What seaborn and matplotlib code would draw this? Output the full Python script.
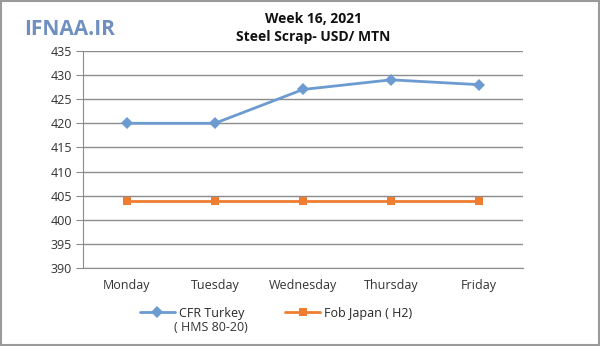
import matplotlib
matplotlib.use("Agg")
import matplotlib.pyplot as plt
import seaborn as sns
import pandas as pd
import numpy as np
from matplotlib.lines import Line2D

days = ["Monday", "Tuesday", "Wednesday", "Thursday", "Friday"]
cfr_turkey = [420, 420, 427, 429, 428]
fob_japan = [404, 404, 404, 404, 404]
series_names = ["CFR Turkey", "Fob Japan ( H2)"]
series_sub = "( HMS 80-20)"
yticks = [390, 395, 400, 405, 410, 415, 420, 425, 430, 435]

sns.set_style("white")
plt.rcParams['font.family'] = ['Open Sans', 'DejaVu Sans']

df = pd.DataFrame({
    "pos": list(range(len(days))) * 2,
    "value": cfr_turkey + fob_japan,
    "series": [series_names[0]] * 5 + [series_names[1]] * 5,
})

fig = plt.figure(figsize=(6.0, 3.46), dpi=100)
ax = fig.add_axes([0.138, 0.225, 0.734, 0.628])

colors = {series_names[0]: "#6b9bd1", series_names[1]: "#ee7d31"}
markers = {series_names[0]: "D", series_names[1]: "s"}
sns.lineplot(data=df, x="pos", y="value", hue="series", style="series",
             palette=colors, markers=markers, dashes=False, ax=ax,
             linewidth=2, markersize=6, markeredgewidth=0, legend=False)

ax.set_xlim(-0.5, 4.5)
ax.set_ylim(390, 435)
ax.set_yticks(yticks)
ax.set_xticks(range(len(days)))
ax.set_xticklabels(days)
ax.set_xlabel("")
ax.set_ylabel("")
ax.grid(axis="y", color="#8c8c8c", linewidth=1)
ax.set_axisbelow(True)
for s in ["top", "right"]:
    ax.spines[s].set_visible(False)
ax.spines["left"].set_color("#8c8c8c")
ax.spines["bottom"].set_color("#8c8c8c")
ax.tick_params(axis="y", length=5, color="#8c8c8c", labelsize=9, colors="#333333", pad=3, direction="out", left=True)
ax.tick_params(axis="x", length=5, color="#8c8c8c", labelsize=9, colors="#333333", pad=8, bottom=True)
ax.set_xticks(np.arange(-0.5, 5.0, 1.0), minor=True)
ax.tick_params(axis="x", which="major", length=0)
ax.tick_params(axis="x", which="minor", length=5, color="#8c8c8c")

fig.text(0.522, 0.945, "Week 16, 2021", ha="center", va="center", fontsize=10, fontweight="bold", color="#111111")
fig.text(0.522, 0.892, "Steel Scrap- USD/ MTN", ha="center", va="center", fontsize=10, fontweight="bold", color="#111111")
fig.text(0.04, 0.915, "IFNAA.IR", ha="left", va="center", fontsize=15, fontweight="bold", color="#6f8fc0")

handles = [Line2D([], [], color=colors[n], marker=markers[n], markersize=6, markeredgewidth=0, linewidth=2) for n in series_names]
fig.legend(handles, series_names, loc="center", bbox_to_anchor=(0.46, 0.095),
           ncol=2, frameon=False, fontsize=9, handlelength=2.8, columnspacing=3.3,
           handletextpad=0.3)
fig.text(0.29, 0.053, series_sub, ha="left", va="center", fontsize=9, color="#333333")

fig.patches.append(plt.Rectangle((0.002, 0.003), 0.996, 0.994, transform=fig.transFigure,
                                 fill=False, edgecolor="#9a9a9a", linewidth=1.5))

fig.savefig("out.png", dpi=100)
